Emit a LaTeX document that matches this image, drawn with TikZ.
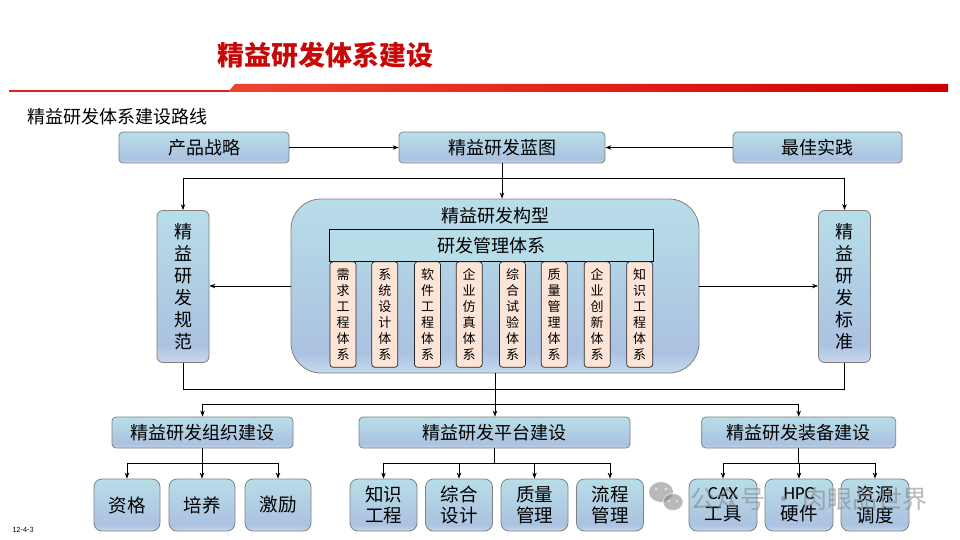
\documentclass[tikz,border=0pt]{standalone}
\usepackage{fontspec}
\setmainfont{Noto Sans CJK SC}
\newfontfamily\latf{Carlito}
\usetikzlibrary{arrows.meta}
\pgfdeclareverticalshading{bluegrad}{100bp}{rgb(0bp)=(0.78,0.85,0.93); rgb(25bp)=(0.78,0.85,0.93); rgb(31bp)=(0.67,0.76,0.88); rgb(75bp)=(0.72,0.87,0.91); rgb(100bp)=(0.72,0.87,0.91)}
\pgfdeclarehorizontalshading{redgrad}{100bp}{rgb(0bp)=(0.93,0.27,0.20); rgb(25bp)=(0.93,0.27,0.20); rgb(50bp)=(0.89,0.13,0.09); rgb(75bp)=(0.80,0.0,0.0); rgb(100bp)=(0.80,0.0,0.0)}
\definecolor{titlered}{RGB}{200,8,8}
\definecolor{thinred}{RGB}{226,30,30}
\definecolor{peach}{RGB}{252,228,214}
\definecolor{mgfill}{RGB}{183,221,232}
\tikzset{
  bbox/.style={draw=black!50, line width=0.8pt, rounded corners=4pt, shade, shading=bluegrad, inner sep=0pt, font=\fontsize{18}{21}\selectfont},
  vbox/.style={bbox, rounded corners=6pt, align=center, font=\fontsize{18}{22}\selectfont},
  leaf/.style={bbox, rounded corners=8pt, minimum width=67pt, minimum height=52pt, align=center, font=\fontsize{18.5}{21}\selectfont},
  sbox/.style={draw=black!85, line width=0.7pt, fill=peach, rounded corners=3pt, minimum width=26pt, minimum height=105.5pt, inner sep=0pt, align=center, font=\fontsize{13}{15.9}\selectfont},
  con/.style={line width=0.9pt, black},
  arr/.style={con, -{Stealth[length=6pt,width=4.5pt]}}
}
\begin{document}
\begin{tikzpicture}[x=1pt,y=-1pt]
\useasboundingbox (0,0) rectangle (960,540);
\fill[white] (0,0) rectangle (960,540);
% header
\node[font=\fontsize{27}{30}\selectfont\bfseries, text=titlered, inner sep=0pt] (title) at (325,55) {精益研发体系建设};
\fill[thinred] (9,89.8) rectangle (232,92.2);
\shade[shading=redgrad] (228,92) -- (235,84) -- (948,84) -- (948,92) -- cycle;
\node[anchor=west, inner sep=0pt, font=\fontsize{18}{20}\selectfont] (sub) at (27,117) {精益研发体系建设路线};
% top row
\node[bbox, minimum width=170pt, minimum height=31pt] (prod) at (204,147.5) {产品战略};
\node[bbox, minimum width=206pt, minimum height=31pt] (blue) at (502,147.5) {精益研发蓝图};
\node[bbox, minimum width=169pt, minimum height=31pt] (best) at (817.5,147.5) {最佳实践};
% side boxes
\node[vbox, minimum width=52pt, minimum height=152pt] (spec) at (183,286.5) {精\\益\\研\\发\\规\\范};
\node[vbox, minimum width=52pt, minimum height=152pt] (std) at (844.5,286.5) {精\\益\\研\\发\\标\\准};
% central architecture
\node[draw=black!50, line width=0.8pt, rounded corners=30pt, shade, shading=bluegrad, minimum width=408pt, minimum height=174pt, inner sep=0pt] (arch) at (495,286) {};
\node[inner sep=0pt, font=\fontsize{18}{20}\selectfont] (archt) at (495,215.5) {精益研发构型};
\node[draw=black, line width=0.7pt, fill=mgfill, minimum width=324pt, minimum height=32pt, inner sep=0pt, font=\fontsize{18}{20}\selectfont] (mgmt) at (491.3,245.2) {研发管理体系};
\foreach \x/\t [count=\k] in {343/{需\\求\\工\\程\\体\\系}, 384.8/{系\\统\\设\\计\\体\\系}, 427.5/{软\\件\\工\\程\\体\\系}, 469.2/{企\\业\\仿\\真\\体\\系}, 512.5/{综\\合\\试\\验\\体\\系}, 554.2/{质\\量\\管\\理\\体\\系}, 597.2/{企\\业\\创\\新\\体\\系}, 639.7/{知\\识\\工\\程\\体\\系}}
  \node[sbox] (s\k) at (\x,314.5) {\t};
% second level
\node[bbox, minimum width=181pt, minimum height=31pt] (org) at (202.5,432.5) {精益研发组织建设};
\node[bbox, minimum width=271pt, minimum height=31pt] (plat) at (494.5,432.5) {精益研发平台建设};
\node[bbox, minimum width=194pt, minimum height=31pt] (equip) at (798.7,432.5) {精益研发装备建设};
% leaves
\node[leaf, minimum width=66pt] (q1) at (127,505) {资格};
\node[leaf, minimum width=66pt] (q2) at (202,505) {培养};
\node[leaf, minimum width=66pt] (q3) at (278,505) {激励};
\node[leaf] (p1) at (383.5,505) {知识\\工程};
\node[leaf] (p2) at (459,505) {综合\\设计};
\node[leaf] (p3) at (534.5,505) {质量\\管理};
\node[leaf] (p4) at (610,505) {流程\\管理};
\node[leaf, minimum width=68pt] (e1) at (723,505) {{\latf CAX}\\工具};
\node[leaf, minimum width=68pt] (e2) at (799,505) {{\latf HPC}\\硬件};
\node[leaf, minimum width=68pt] (e3) at (875,505) {资源\\调度};
% connectors top
\draw[arr] (prod.east) -- (blue.west);
\draw[arr] (best.west) -- (blue.east);
\coordinate (t1) at (183,178);
\coordinate (t2) at (844.5,178);
\draw[con] (t1) -- (t2);
\draw[arr] (blue.south) -- (blue.south |- arch.north);
\draw[arr] (t1) -- (spec.north);
\draw[arr] (t2) -- (std.north);
\draw[arr] (arch.west) -- (spec.east |- arch.west);
\draw[arr] (arch.east) -- (std.west |- arch.east);
\coordinate (b1) at (183,389.3);
\coordinate (b2) at (844.5,389.3);
\draw[con] (spec.south) -- (b1) -- (b2) -- (std.south);
\draw[arr] (arch.south) -- (arch.south |- plat.north);
\coordinate (h1) at (202.5,404.3);
\coordinate (h2) at (798.7,404.3);
\draw[con] (h1) -- (h2);
\draw[arr] (h1) -- (org.north);
\draw[arr] (h2) -- (equip.north);
% connectors bottom
\coordinate (oj) at (202.5,463.3);
\coordinate (pj) at (494.5,463.3);
\coordinate (ej) at (798.7,463.3);
\draw[con] (org.south) -- (oj);
\draw[con] (q1 |- oj) -- (q3 |- oj);
\foreach \n in {q1,q2,q3} \draw[arr] (\n |- oj) -- (\n.north);
\draw[con] (plat.south) -- (pj);
\draw[con] (p1 |- pj) -- (p4 |- pj);
\foreach \n in {p1,p2,p3,p4} \draw[arr] (\n |- pj) -- (\n.north);
\draw[con] (equip.south) -- (ej);
\draw[con] (e1 |- ej) -- (e3 |- ej);
\foreach \n in {e1,e2,e3} \draw[arr] (\n |- ej) -- (\n.north);
% footer
\node[inner sep=0pt, font=\latf\fontsize{8}{9}\selectfont] (code) at (23,530) {12-4-3};
% watermark
\begin{scope}[opacity=0.55]
\fill[gray] (661,492) ellipse (12pt and 10pt);
\fill[gray] (673,502) ellipse (10pt and 8.5pt);
\draw[white, line width=1pt] (673,502) ellipse (10pt and 8.5pt);
\fill[white] (656,489) circle (1.6pt) (666,489) circle (1.6pt) (669,501) circle (1.3pt) (677,501) circle (1.3pt);
\node[inner sep=0pt, text=gray, font=\fontsize{25}{27}\selectfont] (wm) at (809,499) {公众号 · 肉眼品世界};
\end{scope}
\end{tikzpicture}
\end{document}
